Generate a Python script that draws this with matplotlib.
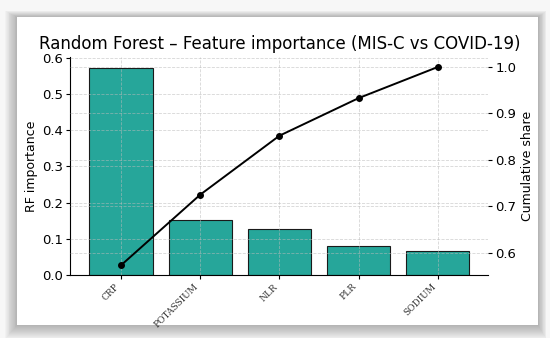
import numpy as np
import matplotlib.pyplot as plt
from matplotlib.patches import Rectangle

features = ['CRP', 'POTASSIUM', 'NLR', 'PLR', 'SODIUM']
importance = [0.573, 0.152, 0.127, 0.081, 0.067]
cumulative = [0.573, 0.725, 0.852, 0.933, 1.0]

fig = plt.figure(figsize=(5.5, 3.38), dpi=100)
fig.patch.set_facecolor('#f7f7f7')

# card with soft shadow (drawn below the axes)
px0, py0, pw, ph = 0.031, 0.038, 0.947, 0.911
for i in range(14, 0, -1):
    d = i * 0.0022
    fig.add_artist(Rectangle((px0 - d * 0.7, py0 - d * 1.3), pw + d * 1.2, ph + d * 1.9,
                             transform=fig.transFigure, facecolor='#505050',
                             edgecolor='none', alpha=0.03, zorder=-2))
fig.add_artist(Rectangle((px0, py0), pw, ph, transform=fig.transFigure,
                         facecolor='white', edgecolor='none', zorder=-1))

ax = fig.add_axes([0.128, 0.186, 0.76, 0.645])
ax.set_facecolor('none')
x = np.arange(len(features))
ax.bar(x, importance, width=0.8, color='#26a69a', edgecolor='#1a1a1a', linewidth=0.8, zorder=2)
ax.set_xticks(x)
ax.set_xticklabels(features, rotation=45, ha='right', fontsize=6.5, family='DejaVu Serif', color='#333333')
ax.set_ylabel('RF importance', fontsize=9, labelpad=3)
ax.tick_params(axis='y', labelsize=9.5, length=3, pad=2)
ax.tick_params(axis='x', length=3, pad=2)
ax.grid(True, linestyle='--', color='#bbbbbb', linewidth=0.6, alpha=0.6, zorder=2.5)
ax.set_axisbelow(False)
ax.set_title('Random Forest \u2013 Feature importance (MIS-C vs COVID-19)', fontsize=12)
for s in ['top', 'right']:
    ax.spines[s].set_visible(False)

ax2 = ax.twinx()
ax2.plot(x, cumulative, color='black', marker='o', markersize=4, linewidth=1.4, zorder=3)
ax2.set_ylabel('Cumulative share', fontsize=9, labelpad=3)
ax2.tick_params(axis='y', labelsize=9.5, length=3, pad=2)
ax2.grid(True, axis='y', linestyle='--', color='#bbbbbb', linewidth=0.6, alpha=0.6)
for s in ['top', 'right', 'left', 'bottom']:
    ax2.spines[s].set_visible(False)

fig.savefig('out.png', dpi=100, facecolor=fig.get_facecolor())
